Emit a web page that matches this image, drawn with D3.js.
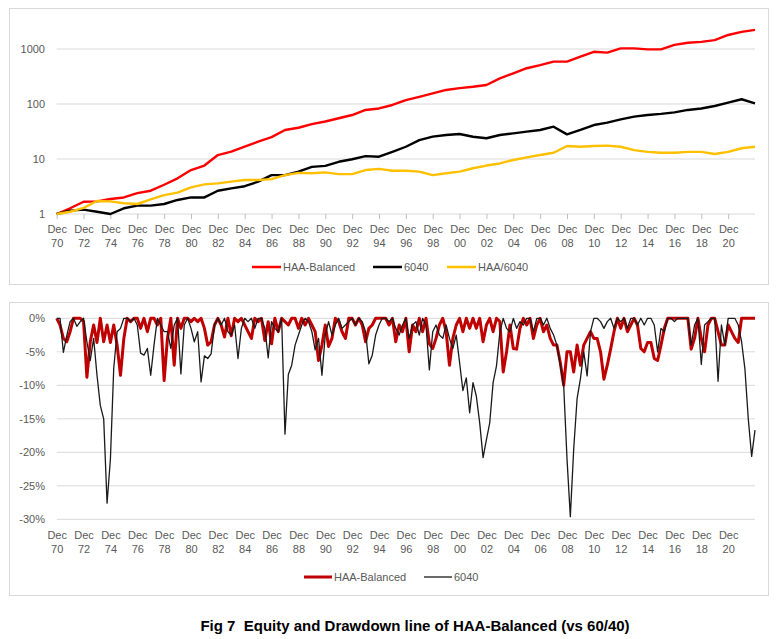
<!DOCTYPE html>
<html>
<head>
<meta charset="utf-8">
<script src="https://cdn.jsdelivr.net/npm/d3@7"></script>
<style>
  body { margin: 0; background: #fff; }
  svg text { font-family: "Liberation Sans", Arial, sans-serif; }
</style>
</head>
<body>
<div id="chart"></div>
<script>
// year-end points, Dec 1970 .. Dec 2022
const equityYears = [1970, 1971, 1972, 1973, 1974, 1975, 1976, 1977, 1978, 1979,
  1980, 1981, 1982, 1983, 1984, 1985, 1986, 1987, 1988, 1989,
  1990, 1991, 1992, 1993, 1994, 1995, 1996, 1997, 1998, 1999,
  2000, 2001, 2002, 2003, 2004, 2005, 2006, 2007, 2008, 2009,
  2010, 2011, 2012, 2013, 2014, 2015, 2016, 2017, 2018, 2019,
  2020, 2021, 2022];

const haaBalanced = [1, 1.27, 1.67, 1.7, 1.87, 2.0, 2.4, 2.65, 3.4, 4.45,
  6.3, 7.6, 11.8, 13.6, 16.8, 20.7, 25, 33.7, 37, 43,
  48, 55, 63, 78, 83, 96, 118, 135, 156, 180,
  194, 206, 222, 293, 362, 447, 510, 590, 590, 725,
  890, 860, 1025, 1025, 985, 985, 1190, 1300, 1350, 1450,
  1800, 2050, 2230];

const sixtyForty = [1, 1.15, 1.2, 1.1, 1.0, 1.27, 1.42, 1.42, 1.52, 1.8,
  2.0, 2.0, 2.65, 2.93, 3.2, 3.87, 5.1, 5.1, 5.9, 7.2,
  7.5, 8.9, 9.9, 11.3, 11, 13.5, 16.7, 22, 25.5, 27.3,
  28.5, 25.4, 23.8, 27.3, 29.3, 31.5, 33.7, 38.7, 28, 33.7,
  41.5, 45.8, 52.6, 58.9, 63, 66, 70.5, 78, 83, 92,
  106, 122, 103];

const haaOver6040 = [1, 1.1, 1.29, 1.72, 1.7, 1.57, 1.52, 1.85, 2.2, 2.44,
  3.05, 3.46, 3.6, 3.87, 4.15, 4.15, 4.3, 5.1, 5.6, 5.5,
  5.7, 5.3, 5.3, 6.3, 6.6, 6.1, 6.1, 5.9, 5.1, 5.5,
  5.9, 6.8, 7.6, 8.3, 9.6, 10.7, 11.8, 13, 17.2, 16.7,
  17.2, 17.5, 16.7, 14.5, 13.5, 13, 13, 13.5, 13.5, 12.3,
  13.5, 15.7, 16.7];

// quarterly drawdowns in %, Dec 1970 then Mar/Jun/Sep/Dec of 1971 .. 2022
const ddHaa = [0,
  -1, -3, -3.5, -2,  0, 0, 0, -0.5,  -8.8, -3.5, -1, -3.6,  0, -3.5, -1, -3.6,
  -1, -4, -8.5, -3,  0, -0.5, 0, 0,  -1.5, 0, -2, 0,  0, -1, 0, -9.3,
  -3, 0, -7, 0,  -1.5, 0, 0, -0.5,  0, -0.5, 0, -1.5,  -4, -3.5, -1, 0,
  -1, -2.8, 0, -2.6,  0, -0.5, 0, -1,  -2, -3, 0, -0.5,  0, -3.3, -0.5, -3.8,
  0, -2, 0, -0.5,  -1, 0, 0, -1.5,  0, -1, 0, -1,  -2, -6.3, -4, -1,
  -4.2, -3, 0, -0.5,  -2, -3, 0, 0,  -1, 0, -1, -3.5,  -1.5, -1, 0, 0,
  0, 0, -1, 0,  -3.5, -1, -2, 0,  -5, -1, -2, 0,  -2, 0, -3.8, -4.5,
  -3, -1, 0, -2,  -7, -3, -1, 0,  -2, 0, -1.5, 0,  -1.5, 0, -3.5, -1,
  0, -2, 0, -0.5,  -8, -5, -1, -4.5,  -4.6, -1.5, 0, -1,  0, -3, -1, 0,
  -2, -1, -3, -4,  -4, -6.6, -10, -5,  -5, -8, -4, -7,  -4, -3, -2, -3,
  -3, -5, -9.1, -7,  -4.6, -2, 0, -1.5,  0, -2, -1, 0,  -1, -4.5, -5, -3.6,
  -3.6, -6, -6.3, -4,  -1.5, 0, 0, 0,  0, 0, 0, 0,  -4.6, -3, 0, -3,
  -5, -1, 0, 0,  -2, -4, -4, -1,  -2, -3, -3.6, 0,  0, 0, 0, 0];

const dd6040 = [0,
  0, -5.1, -2.6, -0.5,  0, -1.2, -0.5, 0,  -3.5, -6.3, -3, -8.5,  -13, -15, -27.6, -21,
  -7.5, -2, -1.5, 0,  0, -0.5, 0, -1,  -5.2, -5.5, -4.5, -8.5,  -4, 0, -1, -2,
  -2, -4.5, -1, 0,  -8.3, -1, 0, -1.5,  -3.5, -2, -9.5, -5.6,  -6, -5.3, -1, 0,
  -1, 0, -2, -2.5,  -1, -6, -1.5, 0,  -0.5, 0, -1.5, 0,  0, -1.5, -5.9, -0.5,
  -1.5, -2, 0, -17.3,  -8.4, -7, -4, -2.5,  -1, 0, -0.5, -2,  -4.7, -3, -8.5, -2.5,
  -0.5, -2.5, -1, 0,  -1.5, -1, -0.5, 0,  -1, 0, -0.5, -2,  -6.8, -5.5, -2.5, -1,
  0, 0, -0.5, 0,  -1.5, -2.5, -1, 0,  -3, -1, -0.5, -2.5,  0, -1, -7.7, -2,
  -1, -2.5, -3, -1,  -3, -4.5, -2.5, -6.6,  -10.8, -8.9, -14.1, -9.6,  -11.6, -15.6, -20.8, -18.1,
  -15.6, -9.6, -7.1, -2.1,  0, -1.5, -2, 0,  -1.5, -0.5, -1, 0,  0, -2, 0, 0,
  -1, 0, -1.5, -2.5,  -4, -7, -10, -21,  -29.6, -19.5, -12, -9,  -5, -8.6, -2, 0,
  0, -0.5, -1.5, -0.5,  0, -1.5, 0, -0.5,  0, -1.5, 0, 0,  -1, 0, -1, 0,
  0, -1, -5, -1.5,  -2, 0, 0, -0.5,  0, 0, 0, 0,  -4, -1, 0, -6.9,
  -1, -0.5, 0, 0,  -9.4, -1, -4, 0,  0, 0, -1, -3.5,  -7.5, -15, -20.6, -16.7];

const tickYears = [1970, 1972, 1974, 1976, 1978, 1980, 1982, 1984, 1986, 1988, 1990, 1992,
  1994, 1996, 1998, 2000, 2002, 2004, 2006, 2008, 2010, 2012, 2014, 2016, 2018, 2020];
const logTicks = [1, 10, 100, 1000];
const ddTicks = [0, -5, -10, -15, -20, -25, -30];

const width = 779, height = 639;
const grey = "#595959", gridCol = "#D9D9D9";

const svg = d3.select("#chart").append("svg")
  .attr("width", width)
  .attr("height", height)
  .style("background", "#fff");

const decDate = y => new Date(y, 11, 1);
const ddDates = ddHaa.map((d, i) => d3.timeMonth.offset(decDate(1970), 3 * i));

const x = d3.scaleTime()
  .domain([decDate(1970), decDate(2022)])
  .range([56.7, 755]);

// panel frames
svg.append("rect").attr("x", 9.5).attr("y", 8.5).attr("width", 759).attr("height", 276)
  .attr("fill", "none").attr("stroke", gridCol);
svg.append("rect").attr("x", 9.5).attr("y", 302.5).attr("width", 759).attr("height", 293)
  .attr("fill", "none").attr("stroke", gridCol);

function dateAxis(g, y0, tickLen) {
  g.attr("transform", `translate(0,${y0})`)
    .call(d3.axisBottom(x).tickValues(tickYears.map(decDate)).tickSize(tickLen).tickSizeOuter(0).tickFormat(""))
    .call(g => g.select(".domain").remove())
    .call(g => g.selectAll(".tick line").attr("stroke", "#BFBFBF"));
  g.selectAll(".tick").each(function (d) {
    const t = d3.select(this).append("text")
      .attr("fill", grey).attr("font-size", 11).attr("text-anchor", "middle");
    t.append("tspan").attr("x", 0).attr("y", tickLen === 0 ? 20 : 19).text("Dec");
    t.append("tspan").attr("x", 0).attr("y", tickLen === 0 ? 34 : 33)
      .text(String(d.getFullYear()).slice(2));
  });
}

// ---------- top: equity (log) ----------
const yTop = d3.scaleLog().domain([1, 1000]).range([214, 49]);

svg.append("g")
  .selectAll("line")
  .data(logTicks)
  .join("line")
  .attr("x1", 56.7).attr("x2", 755)
  .attr("y1", d => yTop(d)).attr("y2", d => yTop(d))
  .attr("stroke", gridCol).attr("stroke-width", 1);

svg.append("g")
  .attr("transform", "translate(45,0)")
  .call(d3.axisLeft(yTop).tickValues(logTicks).tickSize(0).tickPadding(0).tickFormat(d3.format("d")))
  .call(g => g.select(".domain").remove())
  .call(g => g.selectAll("text").attr("fill", grey).attr("font-size", 11)
    .attr("font-family", "Liberation Sans, Arial, sans-serif"));

svg.append("g").call(g => dateAxis(g, 214, 5));

const eqLine = d3.line()
  .x((d, i) => x(decDate(equityYears[i])))
  .y(d => yTop(d));

const topSeries = [
  { name: "HAA-Balanced", values: haaBalanced, color: "#FF0000" },
  { name: "6040", values: sixtyForty, color: "#000000" },
  { name: "HAA/6040", values: haaOver6040, color: "#FFC000" }
];

svg.append("g")
  .selectAll("path")
  .data(topSeries)
  .join("path")
  .attr("d", d => eqLine(d.values))
  .attr("fill", "none")
  .attr("stroke", d => d.color)
  .attr("stroke-width", 2.4)
  .attr("stroke-linejoin", "round");

const topLegendX = [252, 373, 447];
const topLegend = svg.append("g");
topSeries.forEach((s, i) => {
  topLegend.append("line")
    .attr("x1", topLegendX[i]).attr("x2", topLegendX[i] + 29)
    .attr("y1", 267).attr("y2", 267)
    .attr("stroke", s.color).attr("stroke-width", 2.5);
  topLegend.append("text")
    .attr("x", topLegendX[i] + 31).attr("y", 271)
    .attr("font-size", 11).attr("fill", grey)
    .text(s.name);
});

// ---------- bottom: drawdown ----------
const yBot = d3.scaleLinear().domain([-30, 0]).range([519.3, 318.3]);

svg.append("g")
  .selectAll("line")
  .data(ddTicks)
  .join("line")
  .attr("x1", 56.7).attr("x2", 755)
  .attr("y1", d => yBot(d)).attr("y2", d => yBot(d))
  .attr("stroke", gridCol).attr("stroke-width", 1);

svg.append("g")
  .attr("transform", "translate(45,0)")
  .call(d3.axisLeft(yBot).tickValues(ddTicks).tickSize(0).tickPadding(0).tickFormat(d => d + "%"))
  .call(g => g.select(".domain").remove())
  .call(g => g.selectAll("text").attr("fill", grey).attr("font-size", 11)
    .attr("font-family", "Liberation Sans, Arial, sans-serif"));

svg.append("g").call(g => dateAxis(g, 519.3, 0));

const ddLine = d3.line()
  .x((d, i) => x(ddDates[i]))
  .y(d => yBot(d));

const botSeries = [
  { name: "HAA-Balanced", values: ddHaa, color: "#C00000", w: 3 },
  { name: "6040", values: dd6040, color: "#1A1A1A", w: 1.3 }
];

svg.append("g")
  .selectAll("path")
  .data(botSeries)
  .join("path")
  .attr("d", d => ddLine(d.values))
  .attr("fill", "none")
  .attr("stroke", d => d.color)
  .attr("stroke-width", d => d.w)
  .attr("stroke-linejoin", "round");

const botLegendX = [304, 424];
const botLegend = svg.append("g");
botSeries.forEach((s, i) => {
  botLegend.append("line")
    .attr("x1", botLegendX[i]).attr("x2", botLegendX[i] + 28)
    .attr("y1", 577).attr("y2", 577)
    .attr("stroke", s.color).attr("stroke-width", s.w);
  botLegend.append("text")
    .attr("x", botLegendX[i] + 30).attr("y", 581)
    .attr("font-size", 11).attr("fill", grey)
    .text(s.name);
});

// caption
svg.append("text")
  .attr("x", 415).attr("y", 631)
  .attr("text-anchor", "middle")
  .style("white-space", "pre")
  .attr("font-size", 15).attr("font-weight", "bold").attr("fill", "#000")
  .text("Fig 7  Equity and Drawdown line of HAA-Balanced (vs 60/40)");
</script>
</body>
</html>
